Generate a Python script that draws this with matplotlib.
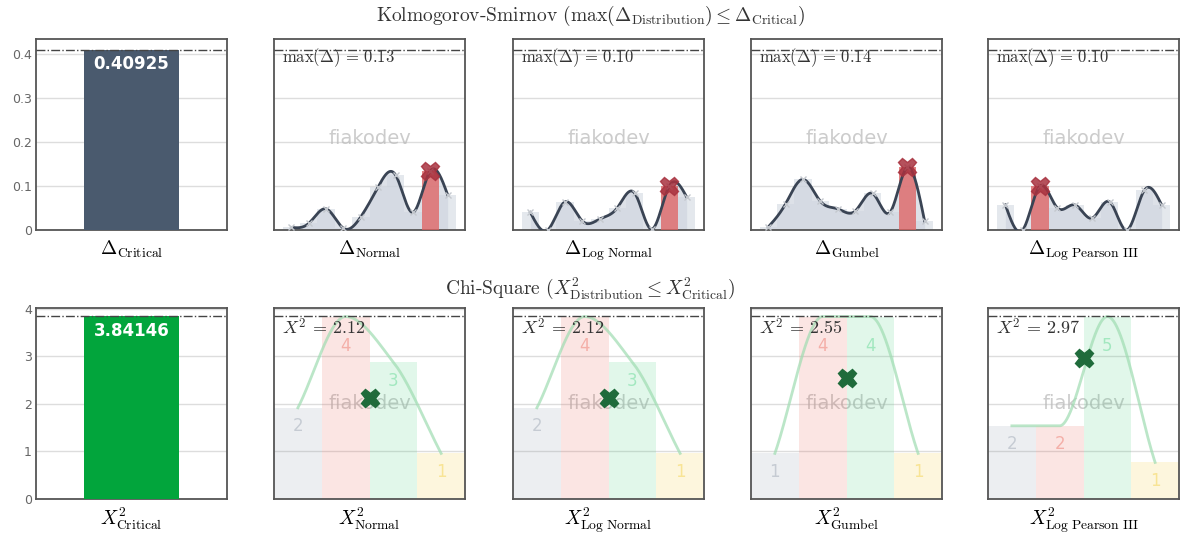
import numpy as np
import matplotlib
matplotlib.use("Agg")
import matplotlib.pyplot as plt
from matplotlib.ticker import FuncFormatter

# ---------------- data ----------------
ks_critical = 0.40925
chi_critical = 3.84146

dist_names = ["Normal", "Log Normal", "Gumbel", "Log Pearson III"]

ks_normal = [0.006, 0.015, 0.048, 0.004, 0.030, 0.098, 0.125, 0.040, 0.134, 0.080]
ks_lognormal = [0.040, 0.000, 0.064, 0.020, 0.025, 0.050, 0.084, 0.002, 0.100, 0.075]
ks_gumbel = [0.007, 0.060, 0.115, 0.065, 0.048, 0.043, 0.083, 0.040, 0.142, 0.020]
ks_logpearson = [0.057, 0.000, 0.100, 0.050, 0.057, 0.027, 0.064, 0.000, 0.090, 0.057]
ks_labels = ["0.13", "0.10", "0.14", "0.10"]

chi_counts_normal = [2, 4, 3, 1]
chi_counts_lognormal = [2, 4, 3, 1]
chi_counts_gumbel = [1, 4, 4, 1]
chi_counts_logpearson = [2, 2, 5, 1]

chi_heights_normal = [1.92, 3.84, 2.88, 0.96]
chi_heights_lognormal = [1.92, 3.84, 2.88, 0.96]
chi_heights_gumbel = [0.96, 3.84, 3.84, 0.96]
chi_heights_logpearson = [1.54, 1.54, 3.84, 0.77]

chi_values = [2.12, 2.12, 2.55, 2.97]
chi_labels = ["2.12", "2.12", "2.55", "2.97"]

ks_series = [ks_normal, ks_lognormal, ks_gumbel, ks_logpearson]
chi_counts = [chi_counts_normal, chi_counts_lognormal, chi_counts_gumbel, chi_counts_logpearson]
chi_heights = [chi_heights_normal, chi_heights_lognormal, chi_heights_gumbel, chi_heights_logpearson]

# ---------------- helpers ----------------
def natural_spline(x, y, xs):
    x = np.asarray(x, float)
    y = np.asarray(y, float)
    n = len(x)
    h = np.diff(x)
    A = np.zeros((n, n))
    b = np.zeros(n)
    A[0, 0] = 1
    A[-1, -1] = 1
    for i in range(1, n - 1):
        A[i, i - 1] = h[i - 1]
        A[i, i] = 2 * (h[i - 1] + h[i])
        A[i, i + 1] = h[i]
        b[i] = 6 * ((y[i + 1] - y[i]) / h[i] - (y[i] - y[i - 1]) / h[i - 1])
    M = np.linalg.solve(A, b)
    idx = np.clip(np.searchsorted(x, xs) - 1, 0, n - 2)
    x0, x1 = x[idx], x[idx + 1]
    hh = x1 - x0
    t0 = x1 - xs
    t1 = xs - x0
    return (M[idx] * t0 ** 3 / (6 * hh) + M[idx + 1] * t1 ** 3 / (6 * hh)
            + (y[idx] / hh - M[idx] * hh / 6) * t0
            + (y[idx + 1] / hh - M[idx + 1] * hh / 6) * t1)


def pchip(x, y, xs):
    x = np.asarray(x, float)
    y = np.asarray(y, float)
    n = len(x)
    h = np.diff(x)
    d = np.diff(y) / h
    m = np.zeros(n)
    for i in range(1, n - 1):
        if d[i - 1] * d[i] > 0:
            w1 = 2 * h[i] + h[i - 1]
            w2 = h[i] + 2 * h[i - 1]
            m[i] = (w1 + w2) / (w1 / d[i - 1] + w2 / d[i])
    m[0] = d[0]
    m[-1] = d[-1]
    idx = np.clip(np.searchsorted(x, xs) - 1, 0, n - 2)
    t = (xs - x[idx]) / h[idx]
    h00 = 2 * t ** 3 - 3 * t ** 2 + 1
    h10 = t ** 3 - 2 * t ** 2 + t
    h01 = -2 * t ** 3 + 3 * t ** 2
    h11 = t ** 3 - t ** 2
    return (h00 * y[idx] + h10 * h[idx] * m[idx] + h01 * y[idx + 1]
            + h11 * h[idx] * m[idx + 1])


def style_axes(ax, show_labels):
    for s in ax.spines.values():
        s.set_color("#555555")
        s.set_linewidth(1.3)
    ax.grid(axis="y", color="#dddddd", linewidth=1)
    ax.set_axisbelow(True)
    ax.set_xticks([])
    ax.tick_params(axis="y", length=0, labelsize=9, labelcolor="#666666",
                   labelleft=show_labels, pad=3)
    ax.yaxis.set_major_formatter(FuncFormatter(lambda v, p: f"{v:g}"))


W, H = 11.8, 5.33
fig = plt.figure(figsize=(W, H), dpi=100)
plt.rcParams["mathtext.fontset"] = "cm"

lefts_px = [36, 274, 513, 751, 988]
width_px = 191
top_row = (1 - 230 / 533, (230 - 39) / 533)
bot_row = (1 - 499 / 533, (499 - 308) / 533)

serif = "cmr10"
ks_color = "#4a5a6e"
chi_color = "#02a53c"
wm_kw = dict(ha="center", va="center", fontsize=14, color="#bbbbbb", alpha=0.75,
             family="DejaVu Sans")

# ---------------- KS row ----------------
ks_top = ks_critical * 1.06
for k, left in enumerate(lefts_px):
    ax = fig.add_axes([left / 1180, top_row[0], width_px / 1180, top_row[1]])
    ax.set_ylim(0, ks_top)
    ax.set_yticks([0, 0.1, 0.2, 0.3, 0.4])
    style_axes(ax, k == 0)
    ax.axhline(ks_critical, color="#444444", linestyle="-.", linewidth=1, zorder=5)
    if k == 0:
        ax.bar([0], [ks_critical], width=0.5, color=ks_color, zorder=3)
        ax.set_xlim(-0.5, 0.5)
        ax.text(0, ks_critical - 0.012, f"{ks_critical:.5f}", ha="center", va="top",
                color="white", fontsize=12, fontweight="bold", family="DejaVu Sans", zorder=6)
        ax.set_xlabel(r"$\Delta_{\mathrm{Critical}}$", fontsize=14, labelpad=6)
        continue
    vals = np.array(ks_series[k - 1])
    x = np.arange(len(vals))
    imax = int(np.argmax(vals))
    ax.text(0.5, 0.48, "fiakodev", transform=ax.transAxes, zorder=1, **wm_kw)
    ax.bar(x, vals, width=1, color="#c5cdd9", alpha=0.45, zorder=2)
    ax.bar([imax], [vals[imax]], width=1, color="#e0605f", alpha=0.75, zorder=3)
    xs = np.linspace(x[0], x[-1], 400)
    ys = natural_spline(x, vals, xs)
    ax.fill_between(xs, 0, ys, color="#cfd5df", alpha=0.7, zorder=2, linewidth=0)
    ax.plot(xs, ys, color="#3a4454", linewidth=2, zorder=4)
    ax.plot(x, vals, "x", color="#c4c8ce", markersize=5, zorder=4)
    ax.plot([imax], [vals[imax]], "X", color="#a8323f", markersize=13, alpha=0.85, zorder=5)
    ax.set_xlim(-1, len(vals))
    ax.text(0.04, 0.905, r"$\max(\Delta)$ = " + ks_labels[k - 1], transform=ax.transAxes,
            ha="left", va="center", fontsize=12, family=serif, color="#333333", zorder=6)
    ax.set_xlabel(r"$\Delta_{\mathrm{" + dist_names[k - 1].replace(" ", r"\ ") + "}}$",
                  fontsize=14, labelpad=6)

# ---------------- Chi-square row ----------------
bar_cols = ["#7f8c9d", "#e74c3c", "#2ecc71", "#f1c40f"]
for k, left in enumerate(lefts_px):
    ax = fig.add_axes([left / 1180, bot_row[0], width_px / 1180, bot_row[1]])
    ax.set_ylim(0, 4.02)
    ax.set_yticks([0, 1, 2, 3, 4])
    style_axes(ax, k == 0)
    ax.axhline(chi_critical, color="#444444", linestyle="-.", linewidth=1, zorder=5)
    if k == 0:
        ax.bar([0], [chi_critical], width=0.5, color=chi_color, zorder=3)
        ax.set_xlim(-0.5, 0.5)
        ax.text(0, chi_critical - 0.12, f"{chi_critical:.5f}", ha="center", va="top",
                color="white", fontsize=12, fontweight="bold", family="DejaVu Sans", zorder=6)
        ax.set_xlabel(r"$X^2_{\mathrm{Critical}}$", fontsize=14, labelpad=5)
        continue
    hts = np.array(chi_heights[k - 1])
    cnts = chi_counts[k - 1]
    x = np.arange(len(hts))
    ax.text(0.5, 0.5, "fiakodev", transform=ax.transAxes, zorder=1, **wm_kw)
    ax.bar(x, hts, width=1, color=bar_cols, alpha=0.14, zorder=2, edgecolor="none")
    for xi, hv, c, col in zip(x, hts, cnts, bar_cols):
        ax.text(xi, min(hv, 3.6) - 0.2, str(c), ha="center", va="top", fontsize=12,
                color=col, alpha=0.35, family="DejaVu Sans", zorder=3)
    xs = np.linspace(x[0], x[-1], 300)
    ys = pchip(x, hts, xs)
    ax.plot(xs, ys, color="#9fdcb1", linewidth=2, alpha=0.7, zorder=3)
    ax.plot([1.5], [chi_values[k - 1]], "X", color="#1f6b3b", markersize=13, zorder=6)
    ax.set_xlim(-0.5, len(hts) - 0.5)
    ax.text(0.04, 0.9, r"$X^2$ = " + chi_labels[k - 1], transform=ax.transAxes,
            ha="left", va="center", fontsize=13, family=serif, color="#333333", zorder=6)
    ax.set_xlabel(r"$X^2_{\mathrm{" + dist_names[k - 1].replace(" ", r"\ ") + "}}$",
                  fontsize=14, labelpad=5)

# ---------------- titles ----------------
fig.text(0.5, 1 - 16 / 533,
         r"Kolmogorov-Smirnov ($\max(\Delta_{\mathrm{Distribution}}) \leq \Delta_{\mathrm{Critical}}$)",
         ha="center", va="center", fontsize=14, family=serif, color="#333333")
fig.text(0.5, 1 - 288 / 533,
         r"Chi-Square ($X^2_{\mathrm{Distribution}} \leq X^2_{\mathrm{Critical}}$)",
         ha="center", va="center", fontsize=14, family=serif, color="#333333")

fig.savefig("out.png", dpi=100)
